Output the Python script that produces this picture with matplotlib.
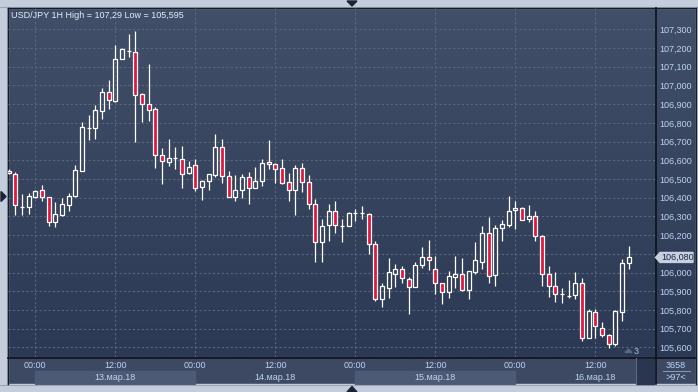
import numpy as np
import pandas as pd
import matplotlib
matplotlib.use('Agg')
import matplotlib.pyplot as plt
from matplotlib.patches import Rectangle, Polygon
from matplotlib.colors import LinearSegmentedColormap
import matplotlib.transforms as mtransforms

plt.rcParams['font.family'] = ['Liberation Sans', 'DejaVu Sans']

# ---------------- data ----------------
title_text = "USD/JPY 1H High = 107,29 Low = 105,595"
times = pd.date_range('2018-03-12 20:00', periods=94, freq='h')
opens = [106.544, 106.526, 106.353, 106.348, 106.403, 106.441, 106.402, 106.271, 106.309, 106.362,
         106.409, 106.544, 106.772, 106.771, 106.865, 106.963, 106.917, 107.143, 107.186, 107.177,
         106.952, 106.899, 106.872, 106.626, 106.592, 106.610, 106.605, 106.534, 106.573, 106.459,
         106.487, 106.519, 106.669, 106.514, 106.402, 106.444, 106.509, 106.450, 106.491, 106.589,
         106.578, 106.557, 106.482, 106.439, 106.557, 106.482, 106.364, 106.161, 106.252, 106.327,
         106.250, 106.247, 106.318, 106.316, 106.311, 106.154, 105.860, 105.919, 105.995, 106.017,
         105.968, 105.924, 106.042, 106.081, 106.017, 105.942, 105.894, 105.974, 105.992, 105.908,
         106.002, 106.059, 106.209, 105.988, 106.236, 106.255, 106.332, 106.343, 106.284, 106.305,
         106.195, 105.992, 105.926, 105.888, 105.876, 105.878, 105.947, 105.648, 105.787, 105.706,
         105.665, 105.616, 105.787, 106.049]
highs = [106.552, 106.537, 106.419, 106.423, 106.441, 106.468, 106.402, 106.377, 106.400, 106.428,
         106.575, 106.804, 106.842, 106.894, 106.986, 107.029, 107.216, 107.198, 107.275, 107.290,
         106.958, 107.115, 106.883, 106.665, 106.714, 106.671, 106.676, 106.596, 106.607, 106.494,
         106.525, 106.740, 106.714, 106.542, 106.521, 106.526, 106.537, 106.564, 106.607, 106.708,
         106.587, 106.607, 106.532, 106.575, 106.585, 106.520, 106.393, 106.286, 106.366, 106.382,
         106.289, 106.325, 106.339, 106.355, 106.316, 106.170, 105.945, 106.079, 106.047, 106.033,
         105.974, 106.059, 106.136, 106.173, 106.088, 105.942, 106.011, 106.088, 106.077, 106.006,
         106.163, 106.248, 106.295, 106.252, 106.280, 106.407, 106.382, 106.353, 106.361, 106.327,
         106.200, 106.034, 106.002, 105.917, 105.958, 106.002, 105.972, 105.804, 105.804, 105.735,
         105.674, 105.799, 106.072, 106.141]
lows = [106.528, 106.309, 106.309, 106.314, 106.398, 106.384, 106.248, 106.245, 106.302, 106.329,
        106.403, 106.544, 106.706, 106.714, 106.822, 106.876, 106.913, 107.140, 107.152, 106.699,
        106.806, 106.810, 106.560, 106.475, 106.571, 106.553, 106.453, 106.528, 106.437, 106.389,
        106.443, 106.512, 106.480, 106.402, 106.384, 106.400, 106.368, 106.450, 106.464, 106.553,
        106.480, 106.471, 106.384, 106.307, 106.432, 106.341, 106.058, 106.058, 106.170, 106.213,
        106.165, 106.247, 106.277, 106.286, 106.099, 105.847, 105.815, 105.863, 105.922, 105.942,
        105.779, 105.924, 106.027, 106.015, 105.886, 105.833, 105.865, 105.917, 105.903, 105.858,
        105.995, 106.018, 105.945, 105.929, 106.170, 106.243, 106.234, 106.279, 106.271, 106.170,
        105.929, 105.870, 105.842, 105.838, 105.865, 105.858, 105.635, 105.648, 105.651, 105.656,
        105.595, 105.610, 105.742, 106.020]
closes = [106.532, 106.359, 106.353, 106.407, 106.435, 106.402, 106.271, 106.311, 106.364, 106.412,
          106.546, 106.776, 106.772, 106.867, 106.963, 106.920, 107.140, 107.195, 107.186, 106.947,
          106.899, 106.867, 106.626, 106.599, 106.610, 106.610, 106.528, 106.567, 106.453, 106.489,
          106.525, 106.669, 106.514, 106.402, 106.444, 106.509, 106.450, 106.489, 106.585, 106.578,
          106.555, 106.480, 106.444, 106.557, 106.482, 106.364, 106.161, 106.247, 106.327, 106.252,
          106.250, 106.321, 106.318, 106.316, 106.154, 105.860, 105.927, 106.001, 106.017, 105.972,
          105.924, 106.043, 106.086, 106.065, 105.942, 105.897, 105.981, 105.995, 105.908, 106.006,
          106.065, 106.209, 105.984, 106.236, 106.261, 106.327, 106.343, 106.279, 106.305, 106.198,
          105.995, 105.931, 105.886, 105.888, 105.876, 105.942, 105.653, 105.794, 105.712, 105.665,
          105.621, 105.794, 106.049, 106.081]

price_ticks = [105.6, 105.7, 105.8, 105.9, 106.0, 106.1, 106.2, 106.3, 106.4,
               106.5, 106.6, 106.7, 106.8, 106.9, 107.0, 107.1, 107.2, 107.3]
time_ticks = ['2018-03-13 00:00', '2018-03-13 12:00', '2018-03-14 00:00', '2018-03-14 12:00',
              '2018-03-15 00:00', '2018-03-15 12:00', '2018-03-16 00:00', '2018-03-16 12:00']
time_labels = ['00:00', '12:00', '00:00', '12:00', '00:00', '12:00', '00:00', '12:00']
date_labels = ['13.мар.18', '14.мар.18', '15.мар.18', '16.мар.18']
date_days = ['2018-03-13', '2018-03-14', '2018-03-15', '2018-03-16']
date_band_light = [True, False, True, False]
bar_total_text = '3658'
visible_bars_text = '>97<'
last_price_text = '106,080'

# ---------------- styling ----------------
W, H = 698, 392
RED = '#e2163d'
FRAME = '#c3cddb'
TXT = '#bcd3f0'
GRID = '#58667f'

fig = plt.figure(figsize=(W / 100, H / 100), dpi=100, facecolor=FRAME)

# background / decoration layer in pixel coordinates
bg = fig.add_axes([0, 0, 1, 1], zorder=0)
bg.set_xlim(0, W)
bg.set_ylim(H, 0)
bg.axis('off')
cmap = LinearSegmentedColormap.from_list('bgc', ['#414f69', '#2c3954'])
bg.imshow(np.linspace(0, 1, 256).reshape(-1, 1), cmap=cmap, aspect='auto',
          extent=(8, 696, 357, 8), interpolation='bilinear', zorder=0)
bg.set_xlim(0, W)
bg.set_ylim(H, 0)
# bottom strip
bg.add_patch(Rectangle((8, 357), 688, 27, color='#3d4963', zorder=1))
# frames
bg.add_patch(Rectangle((0, 0), W, 8, color=FRAME, zorder=2))
bg.plot([0, W], [6.5, 6.5], color='#9aa6b8', lw=0.8, zorder=3)
bg.add_patch(Rectangle((0, 384), W, 8, color=FRAME, zorder=2))
bg.plot([0, W], [385, 385], color='#9aa6b8', lw=0.8, zorder=3)
bg.add_patch(Rectangle((0, 0), 8, H, color=FRAME, zorder=2))
bg.plot([6.5, 6.5], [7, 385], color='#9aa6b8', lw=0.8, zorder=3)
bg.add_patch(Rectangle((696, 0), 2, H, color=FRAME, zorder=2))
# dark border lines
bg.plot([7.5, 696], [8, 8], color='#161b26', lw=1.0, zorder=4)
bg.plot([8, 8], [8, 384], color='#161b26', lw=1.0, zorder=4)
bg.plot([696, 696], [8, 384], color='#161b26', lw=1.0, zorder=4)
bg.plot([8, 696], [357.5, 357.5], color='#0e121a', lw=1.2, zorder=4)
bg.plot([655.5, 655.5], [8, 384], color='#0e121a', lw=1.2, zorder=4)
# small triangles on the frame
bg.add_patch(Polygon([(347, 1), (357, 1), (352, 6)], color='#1b2334', zorder=5))
bg.add_patch(Polygon([(347, 392), (357, 392), (352, 386.5)], color='#1b2334', zorder=5))
bg.add_patch(Polygon([(1, 191.5), (6, 196.5), (1, 201.5)], color='#1b2334', zorder=5))
# bottom-right boxes
bg.add_patch(Rectangle((637, 359), 17, 25, color='#2a3550', zorder=5))
bg.plot([636, 636], [358, 384], color='#5b6781', lw=0.8, zorder=5)
bg.text(676, 365.5, bar_total_text, color=TXT, fontsize=6.5, ha='center', va='center', zorder=6)
bg.plot([663, 690], [371, 371], color='#8a9bb6', lw=0.7, zorder=6)
bg.text(676, 377.5, visible_bars_text, color=TXT, fontsize=6.5, ha='center', va='center', zorder=6)

# ---------------- main price axes ----------------
ax = fig.add_axes([8 / W, 1 - 357 / H, 647 / W, 349 / H], zorder=1)
ax.patch.set_alpha(0)
for s in ax.spines.values():
    s.set_visible(False)

t0 = pd.Timestamp('2018-03-13 00:00')
x = ((times - t0) / pd.Timedelta(hours=1)).to_numpy(dtype=float)
o = np.array(opens)
h = np.array(highs)
l = np.array(lows)
c = np.array(closes)
up = c >= o
blo = np.minimum(o, c)
bhi = np.maximum(o, c)

ax.vlines(x, l, blo, color='white', lw=0.9, zorder=3)
ax.vlines(x, bhi, h, color='white', lw=0.9, zorder=3)
face = ['none' if u else RED for u in up]
ax.bar(x, bhi - blo, bottom=blo, width=0.62, color=face, edgecolor='white',
       linewidth=0.9, zorder=4)

ax.set_xlim(-4.095, 92.95)
ax.set_ylim(105.549, 107.414)

tx = ((pd.to_datetime(time_ticks) - t0) / pd.Timedelta(hours=1)).to_numpy(dtype=float)
ax.set_xticks(tx)
ax.set_yticks(price_ticks)
last_close = closes[-1]
# the tick label nearest the last-price marker is hidden under it in the original
ylabels = ['' if abs(v - last_close) < 0.045 else f'{v:.3f}'.replace('.', ',') for v in price_ticks]
ax.set_yticklabels(ylabels)
ax.yaxis.tick_right()
ax.tick_params(axis='y', length=0, pad=3, labelsize=6.5, labelcolor=TXT)
ax.tick_params(axis='x', length=0, labelbottom=False)
ax.set_axisbelow(True)
ax.grid(True, color=GRID, lw=0.8, linestyle=(0, (2, 2)))

# time axis labels and date bands (x in data units, y in pixels)
blend = mtransforms.blended_transform_factory(ax.transData, bg.transData)
for xv, lab in zip(tx, time_labels):
    bg.text(xv, 365.5, lab, color=TXT, fontsize=6.5, ha='center', va='center',
            transform=blend, zorder=6)
for d, lab, light in zip(date_days, date_labels, date_band_light):
    d0 = (pd.Timestamp(d) - t0) / pd.Timedelta(hours=1)
    if light:
        bg.add_patch(Rectangle((d0, 371), 24, 13, color='#4d5a75', transform=blend, zorder=2))
    bg.text(d0 + 12, 377.5, lab, color=TXT, fontsize=6.5, ha='center', va='center',
            transform=blend, zorder=6)

# ---------------- overlay ----------------
ov = fig.add_axes([0, 0, 1, 1], zorder=2)
ov.set_xlim(0, W)
ov.set_ylim(H, 0)
ov.axis('off')
ov.patch.set_alpha(0)
ov.text(11, 15, title_text, color='#e6edf7', fontsize=6.5, ha='left', va='center')

yd = ax.transData.transform((0, last_close))[1]
yp = bg.transData.inverted().transform((0, yd))[1]
ov.add_patch(Polygon([(655.5, yp), (660, yp - 5), (693, yp - 5), (693, yp + 5), (660, yp + 5)],
                     color='#c6d0de', zorder=3))
ov.text(661, yp, last_price_text, color='#1c2742', fontsize=6.5, ha='left', va='center', zorder=4)
ov.text(636, 352, '3', color='#9fc2ec', fontsize=6.5, ha='center', va='center')
ov.add_patch(Polygon([(625, 352.5), (628.5, 349), (632, 352.5)], color='#5b6781'))

fig.savefig('out.png', dpi=100, facecolor=FRAME)
